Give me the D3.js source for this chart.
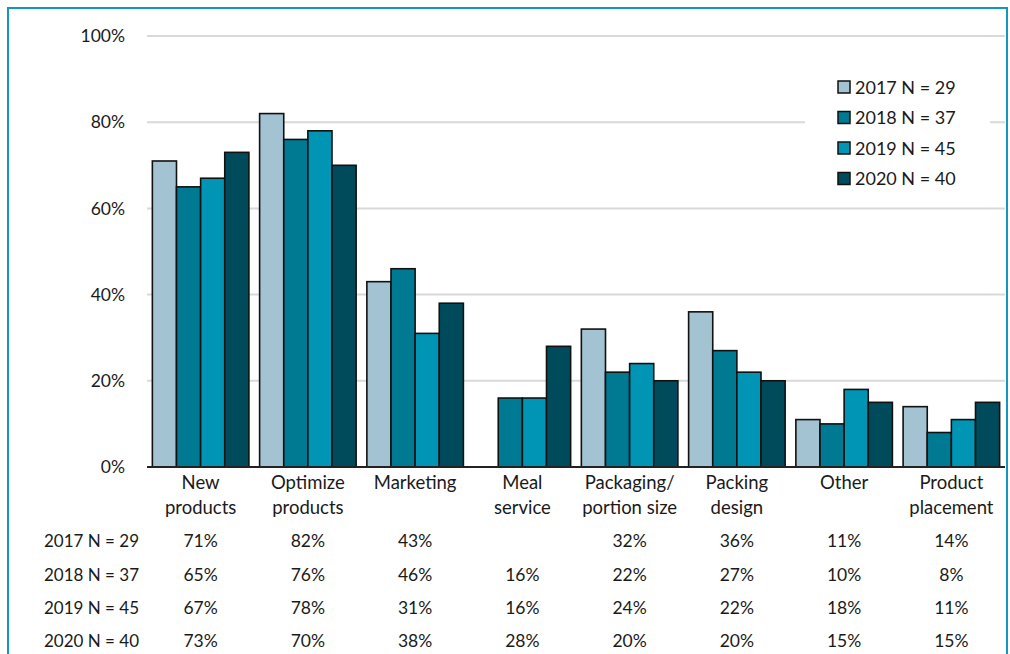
<!DOCTYPE html>
<html>
<head>
<meta charset="utf-8">
<script src="https://cdn.jsdelivr.net/npm/d3@7"></script>
<style>
  html, body { margin: 0; padding: 0; background: #fff; }
  svg { display: block; font-family: Lato, "Noto Sans", sans-serif; }
</style>
</head>
<body>
<svg id="chart" width="1010" height="654"></svg>
<script>
// Categories (two-line labels) and yearly shares, in percent
const categories = [
  ["New", "products"],
  ["Optimize", "products"],
  ["Marketing"],
  ["Meal", "service"],
  ["Packaging/", "portion size"],
  ["Packing", "design"],
  ["Other"],
  ["Product", "placement"]
];
const seriesNames = ["2017 N = 29", "2018 N = 37", "2019 N = 45", "2020 N = 40"];
const values2017 = [71, 82, 43, null, 32, 36, 11, 14];
const values2018 = [65, 76, 46, 16, 22, 27, 10, 8];
const values2019 = [67, 78, 31, 16, 24, 22, 18, 11];
const values2020 = [73, 70, 38, 28, 20, 20, 15, 15];
const yTicks = [0, 20, 40, 60, 80, 100];

const seriesValues = [values2017, values2018, values2019, values2020];
const colors = ["#a3c3d3", "#007a93", "#0095b5", "#004b5b"];

const svg = d3.select("#chart");
const margin = { left: 147, right: 1005, top: 36, bottom: 467 };

const x = d3.scaleBand()
  .domain(d3.range(categories.length))
  .range([margin.left, margin.right])
  .paddingInner(0.1)
  .paddingOuter(0.05);
const xs = d3.scaleBand()
  .domain(d3.range(seriesNames.length))
  .range([0, x.bandwidth()]);
const y = d3.scaleLinear().domain([0, 100]).range([margin.bottom, margin.top]);

// Outer frame
svg.append("path")
  .attr("d", "M8,654 L8,8 L1007,8 L1007,654")
  .attr("fill", "none")
  .attr("stroke", "#1199bd")
  .attr("stroke-width", 2);

// Gridlines
svg.append("g")
  .selectAll("line")
  .data(yTicks.filter(d => d > 0))
  .join("line")
  .attr("x1", margin.left).attr("x2", margin.right)
  .attr("y1", d => y(d)).attr("y2", d => y(d))
  .attr("stroke", "#d9d9d9").attr("stroke-width", 2);

// Y axis labels
const yAxis = d3.axisLeft(y).tickValues(yTicks).tickFormat(d => d + "%").tickSize(0).tickPadding(0);
const yg = svg.append("g").attr("transform", `translate(125,0)`).call(yAxis);
yg.select(".domain").remove();
yg.selectAll("text").attr("font-size", 17.5).attr("fill", "#1a1a1a").attr("font-family", "Lato, 'Noto Sans', sans-serif");

// Bars
const groups = svg.append("g")
  .selectAll("g")
  .data(categories.map((c, i) => i))
  .join("g")
  .attr("transform", i => `translate(${x(i)},0)`);

groups.selectAll("rect")
  .data(i => seriesValues.map((vals, s) => ({ s, v: vals[i] })).filter(d => d.v != null))
  .join("rect")
  .attr("x", d => xs(d.s))
  .attr("width", xs.bandwidth())
  .attr("y", d => y(d.v))
  .attr("height", d => y(0) - y(d.v))
  .attr("fill", d => colors[d.s])
  .attr("stroke", "#111")
  .attr("stroke-width", 1.6);

// Baseline
svg.append("line")
  .attr("x1", margin.left).attr("x2", margin.right)
  .attr("y1", y(0)).attr("y2", y(0))
  .attr("stroke", "#222").attr("stroke-width", 2);

// Category labels
const catText = svg.append("g")
  .selectAll("text")
  .data(categories)
  .join("text")
  .attr("x", (d, i) => x(i) + x.bandwidth() / 2)
  .attr("y", 489)
  .attr("text-anchor", "middle")
  .attr("font-size", 18.5)
  .attr("fill", "#1a1a1a");
catText.selectAll("tspan")
  .data(d => d)
  .join("tspan")
  .attr("x", function () { return d3.select(this.parentNode).attr("x"); })
  .attr("dy", (d, i) => i === 0 ? 0 : 25)
  .text(d => d);

// Data table below the axis
const rowY = [547, 581, 614, 647];
const table = svg.append("g");
seriesNames.forEach((name, s) => {
  table.append("text")
    .attr("x", 139).attr("y", rowY[s])
    .attr("text-anchor", "end")
    .attr("font-size", 17).attr("fill", "#1a1a1a")
    .text(name);
  table.selectAll(null)
    .data(seriesValues[s].map((v, i) => ({ v, i })).filter(d => d.v != null))
    .join("text")
    .attr("x", d => x(d.i) + x.bandwidth() / 2)
    .attr("y", rowY[s])
    .attr("text-anchor", "middle")
    .attr("font-size", 17.5).attr("fill", "#1a1a1a")
    .text(d => d.v + "%");
});

// Legend (white box over the gridline)
const legend = svg.append("g");
legend.append("rect")
  .attr("x", 805).attr("y", 68).attr("width", 185).attr("height", 128)
  .attr("fill", "#fff");
seriesNames.forEach((name, s) => {
  const ly = 87 + s * 30.5;
  legend.append("rect")
    .attr("x", 838).attr("y", ly - 6).attr("width", 12).attr("height", 12)
    .attr("fill", colors[s]).attr("stroke", "#111").attr("stroke-width", 1.5);
  legend.append("text")
    .attr("x", 855).attr("y", ly + 6.5)
    .attr("font-size", 18).attr("fill", "#1a1a1a")
    .text(name);
});
</script>
</body>
</html>
